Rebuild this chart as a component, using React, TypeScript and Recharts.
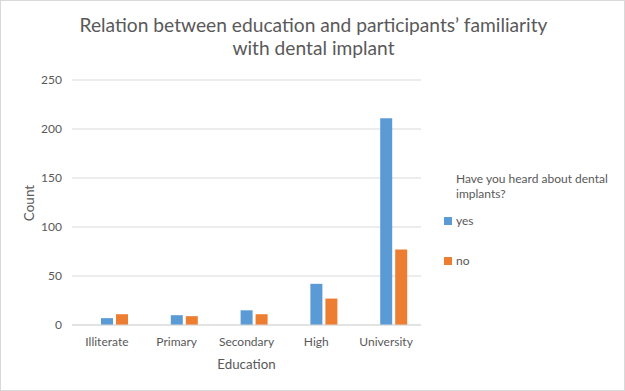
import React from 'react';
import { BarChart, Bar, XAxis, YAxis, CartesianGrid, Label } from 'recharts';

const categories = ['Illiterate', 'Primary', 'Secondary', 'High', 'University'];
const yesCounts = [7, 10, 15, 42, 211];
const noCounts = [11, 9, 11, 27, 77];
const yTicks = [0, 50, 100, 150, 200, 250];

const data = categories.map((name, i) => ({
    name,
    blank: 0,
    yes: yesCounts[i],
    no: noCounts[i],
}));

const FONT = 'Lato, "Open Sans", sans-serif';
const TEXT = '#595959';

export default function App() {
    return (
        <div
            style={{
                position: 'absolute',
                top: 0,
                left: 0,
                width: 625,
                height: 391,
                boxSizing: 'border-box',
                border: '1px solid #d9d9d9',
                background: '#fff',
                fontFamily: FONT,
                color: TEXT,
            }}
        >
            <div
                style={{
                    position: 'absolute',
                    top: 12,
                    left: 0,
                    width: 625,
                    textAlign: 'center',
                    fontSize: 19.2,
                    lineHeight: '23px',
                }}
            >
                Relation between education and participants’ familiarity
                <br />
                with dental implant
            </div>
            <div style={{ position: 'absolute', top: -1, left: -1 }}>
                <BarChart
                    width={625}
                    height={391}
                    data={data}
                    margin={{ top: 80, right: 204, bottom: 0, left: 0 }}
                    barSize={12}
                    barGap={3}
                >
                    <CartesianGrid vertical={false} stroke="#d9d9d9" />
                    <XAxis
                        dataKey="name"
                        height={66}
                        axisLine={{ stroke: '#d9d9d9' }}
                        tickLine={false}
                        tickSize={0}
                        tickMargin={12}
                        tick={{ fill: TEXT, fontSize: 12, fontFamily: FONT }}
                    >
                        <Label
                            value="Education"
                            position="insideBottom"
                            offset={22}
                            style={{ fill: TEXT, fontSize: 13.3, fontFamily: FONT }}
                        />
                    </XAxis>
                    <YAxis
                        width={72}
                        domain={[0, 250]}
                        ticks={yTicks}
                        axisLine={false}
                        tickLine={false}
                        tickSize={0}
                        tickMargin={10}
                        tick={{ fill: TEXT, fontSize: 12, fontFamily: FONT }}
                    />
                    <Bar dataKey="blank" fill="#a5a5a5" isAnimationActive={false} />
                    <Bar dataKey="yes" fill="#5b9bd5" isAnimationActive={false} />
                    <Bar dataKey="no" fill="#ed7d31" isAnimationActive={false} />
                </BarChart>
            </div>
            <div
                style={{
                    position: 'absolute',
                    left: 28,
                    top: 202,
                    fontSize: 13.5,
                    transform: 'translate(-50%, -50%) rotate(-90deg)',
                }}
            >
                Count
            </div>
            <div
                style={{
                    position: 'absolute',
                    left: 455,
                    top: 170,
                    fontSize: 12,
                    lineHeight: '15px',
                }}
            >
                Have you heard about dental
                <br />
                implants?
            </div>
            <div style={{ position: 'absolute', left: 443, top: 212, fontSize: 12, display: 'flex', alignItems: 'center' }}>
                <span style={{ width: 8, height: 8, background: '#5b9bd5', marginRight: 4 }} />
                yes
            </div>
            <div style={{ position: 'absolute', left: 443, top: 252, fontSize: 12, display: 'flex', alignItems: 'center' }}>
                <span style={{ width: 8, height: 8, background: '#ed7d31', marginRight: 4 }} />
                no
            </div>
        </div>
    );
}
